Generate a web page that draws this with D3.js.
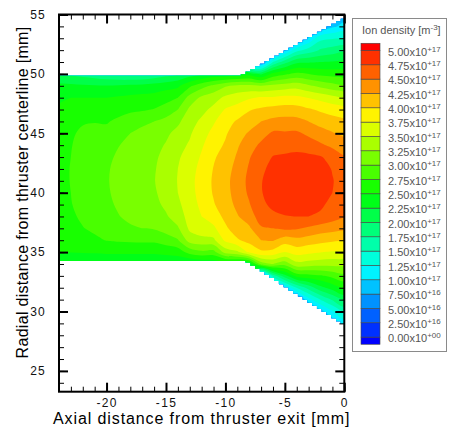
<!DOCTYPE html>
<html>
<head>
<meta charset="utf-8">
<script src="https://cdn.jsdelivr.net/npm/d3@7"></script>
<style>
  html, body { margin: 0; padding: 0; background: #fff; }
  svg { display: block; font-family: "Liberation Sans", Arial, Helvetica, sans-serif; }
</style>
</head>
<body>
<svg id="chart" width="450" height="429"></svg>
<script>
// Axial stations of the sampled columns [mm]
const axialMm = [-24, -23, -22, -21, -20, -19, -18, -17, -16, -15, -14, -13,
                 -12, -11, -10, -9, -8, -7, -6, -5, -4, -3, -2, -1, 0];
// Radial position [mm] of the first sample in each column; samples go down in 1 mm steps
const firstRadialMm = [50, 50, 50, 50, 50, 50, 50, 50, 50, 50, 50, 50,
                       50, 50, 50, 50, 51, 51, 52, 53, 53, 54, 54, 55, 55];
// Ion density per column, in units of 1e17 m^-3
const ionDensity = [
  [2.0, 2.3, 2.45, 2.55, 2.6, 2.63, 2.65, 2.66, 2.67, 2.67, 2.66, 2.65, 2.63, 2.6, 2.56, 2.5, 2.2],
  [1.95, 2.3, 2.5, 2.62, 2.68, 2.72, 2.74, 2.75, 2.76, 2.76, 2.75, 2.74, 2.71, 2.67, 2.61, 2.51, 2.22],
  [1.9, 2.28, 2.5, 2.65, 2.73, 2.79, 2.82, 2.84, 2.85, 2.85, 2.84, 2.82, 2.79, 2.74, 2.66, 2.52, 2.22],
  [1.85, 2.27, 2.5, 2.64, 2.74, 2.82, 2.87, 2.9, 2.92, 2.92, 2.91, 2.89, 2.86, 2.8, 2.7, 2.53, 2.22],
  [1.78, 2.26, 2.5, 2.63, 2.73, 2.82, 2.89, 2.94, 2.97, 2.98, 2.97, 2.95, 2.91, 2.85, 2.76, 2.55, 2.22],
  [1.72, 2.28, 2.53, 2.66, 2.8, 2.92, 2.99, 3.04, 3.07, 3.07, 3.06, 3.03, 2.99, 2.92, 2.78, 2.55, 2.22],
  [1.7, 2.3, 2.56, 2.7, 2.88, 3.0, 3.07, 3.12, 3.14, 3.14, 3.13, 3.1, 3.05, 2.97, 2.79, 2.55, 2.22],
  [1.72, 2.32, 2.58, 2.72, 2.95, 3.06, 3.13, 3.17, 3.19, 3.19, 3.18, 3.15, 3.09, 3.0, 2.8, 2.55, 2.23],
  [1.8, 2.35, 2.6, 2.76, 3.0, 3.1, 3.17, 3.21, 3.23, 3.24, 3.22, 3.18, 3.12, 3.02, 2.8, 2.55, 2.24],
  [1.9, 2.4, 2.66, 2.85, 3.08, 3.2, 3.27, 3.32, 3.35, 3.36, 3.34, 3.3, 3.22, 3.1, 2.88, 2.58, 2.25],
  [2.0, 2.45, 2.75, 3.0, 3.2, 3.33, 3.42, 3.47, 3.5, 3.51, 3.5, 3.45, 3.37, 3.22, 2.98, 2.62, 2.26],
  [2.1, 2.7, 3.1, 3.3, 3.4, 3.47, 3.53, 3.6, 3.65, 3.67, 3.66, 3.63, 3.6, 3.55, 3.36, 2.85, 2.2],
  [2.2, 2.9, 3.3, 3.42, 3.55, 3.65, 3.72, 3.78, 3.83, 3.86, 3.85, 3.81, 3.75, 3.65, 3.42, 2.95, 2.25],
  [2.3, 3.05, 3.4, 3.57, 3.72, 3.82, 3.9, 3.97, 4.01, 4.03, 4.02, 3.98, 3.88, 3.7, 3.45, 2.92, 2.28],
  [2.3, 3.22, 3.55, 3.77, 3.9, 3.97, 4.03, 4.1, 4.15, 4.18, 4.17, 4.13, 4.06, 3.96, 3.8, 3.35, 2.3],
  [2.35, 3.3, 3.64, 3.85, 4.03, 4.14, 4.22, 4.28, 4.33, 4.36, 4.35, 4.31, 4.23, 4.13, 3.97, 3.45, 2.3],
  [0.8, 2.4, 3.3, 3.72, 3.98, 4.13, 4.28, 4.39, 4.48, 4.53, 4.56, 4.54, 4.48, 4.37, 4.21, 4.08, 3.8, 2.3],
  [0.6, 2.2, 3.25, 3.78, 4.04, 4.25, 4.4, 4.55, 4.65, 4.71, 4.74, 4.74, 4.71, 4.63, 4.47, 4.25, 3.95, 3.1, 0.5],
  [0.3, 1.5, 2.58, 3.31, 3.78, 4.08, 4.32, 4.54, 4.66, 4.76, 4.81, 4.83, 4.82, 4.79, 4.71, 4.5, 4.27, 3.92, 3.25, 1.6, 0.6],
  [0.3, 0.95, 1.9, 2.71, 3.36, 3.82, 4.11, 4.34, 4.53, 4.67, 4.78, 4.85, 4.88, 4.87, 4.83, 4.74, 4.55, 4.12, 3.75, 3.1, 2.17, 1.0],
  [0.6, 1.42, 2.19, 2.81, 3.4, 3.81, 4.1, 4.33, 4.54, 4.68, 4.8, 4.87, 4.9, 4.88, 4.83, 4.75, 4.53, 4.18, 3.86, 3.42, 2.6, 1.5, 0.65],
  [0.4, 1.02, 1.6, 2.22, 2.75, 3.29, 3.74, 4.03, 4.25, 4.45, 4.62, 4.8, 4.86, 4.88, 4.86, 4.81, 4.75, 4.46, 4.13, 3.81, 3.38, 2.66, 1.85, 1.15, 0.5],
  [0.7, 1.43, 1.78, 2.25, 2.68, 3.18, 3.67, 3.96, 4.16, 4.35, 4.54, 4.77, 4.82, 4.83, 4.82, 4.78, 4.72, 4.38, 4.08, 3.76, 3.35, 2.72, 2.17, 1.5, 0.9],
  [0.5, 0.95, 1.48, 1.86, 2.27, 2.65, 3.09, 3.58, 3.9, 4.1, 4.27, 4.45, 4.65, 4.74, 4.76, 4.75, 4.7, 4.62, 4.34, 4.04, 3.73, 3.34, 2.82, 2.36, 1.78, 1.22, 0.8],
  [0.85, 1.08, 1.5, 1.93, 2.29, 2.61, 3.0, 3.5, 3.84, 4.05, 4.19, 4.36, 4.52, 4.62, 4.67, 4.66, 4.6, 4.52, 4.3, 4.0, 3.7, 3.32, 2.92, 2.55, 2.05, 1.55, 1.1]
];

// Outline of the computational domain [axial mm, radial mm]
const wallTop = [[-24, 49.85], [-8.7, 49.85], [0, 54.72]];
const wallBottom = [[-24, 34.25], [-8.3, 34.25], [0, 28.85]];
const meshCellMm = 0.4;

// Contour levels (1e17 m^-3) and band colours from below the lowest level to above the highest
const contourLevels = [0, 0.25, 0.5, 0.75, 1, 1.25, 1.5, 1.75, 2, 2.25, 2.5,
                       2.75, 3, 3.25, 3.5, 3.75, 4, 4.25, 4.5, 4.75, 5];
const bandColors = ["#0000FF", "#0031FF", "#0061FF", "#0092FF", "#00C2FF", "#00F3FF",
                    "#00FFDB", "#00FFAA", "#00FF79", "#00FF49", "#00FF18", "#18FF00",
                    "#49FF00", "#79FF00", "#AAFF00", "#DBFF00", "#FFF300", "#FFC200",
                    "#FF9200", "#FF6100", "#FF3100", "#FF0000"];

const xTicks = [-20, -15, -10, -5, 0];
const yTicks = [25, 30, 35, 40, 45, 50, 55];
const xTitle = "Axial distance from thruster exit [mm]";
const yTitle = "Radial distance from thruster centerline [mm]";

// ---------------------------------------------------------------------------
const svg = d3.select("#chart");
svg.append("rect").attr("width", 450).attr("height", 429).attr("fill", "#fff");

const x = d3.scaleLinear().domain([-24, 0]).range([59, 344.3]);
const y = d3.scaleLinear().domain([23.25, 55]).range([391.7, 14.5]);

// Regular grid for the contour generator (columns padded with their end samples)
const nx = axialMm.length;
const yTopGrid = d3.max(firstRadialMm);
const yBottomGrid = d3.min(firstRadialMm.map((t, i) => t - ionDensity[i].length + 1));
const ny = yTopGrid - yBottomGrid + 1;
const grid = new Float64Array(nx * ny);
for (let j = 0; j < ny; j++) {
  const r = yTopGrid - j;
  for (let i = 0; i < nx; i++) {
    const col = ionDensity[i];
    const k = Math.max(0, Math.min(col.length - 1, firstRadialMm[i] - r));
    grid[j * nx + i] = col[k];
  }
}
const bands = d3.contours().size([nx, ny]).smooth(true).thresholds(contourLevels)(grid);

// Grid coordinates (sample at cell centre) -> screen, rings drawn as smooth closed curves
const gx = cx => x(axialMm[0] + (cx - 0.5));
const gy = cy => y(yTopGrid - (cy - 0.5));
const ringLine = d3.line().curve(d3.curveCatmullRomClosed.alpha(0.5));
function bandPath(mp) {
  let d = "";
  for (const polygon of mp.coordinates) {
    for (const ring of polygon) {
      const pts = ring.slice(0, -1).map(p => [gx(p[0]), gy(p[1])]);
      if (pts.length > 2) d += ringLine(pts);
    }
  }
  return d;
}

// Stepped wall following the mesh cells
function stairs(p0, p1, step) {
  const pts = [];
  const n = Math.ceil((p1[0] - p0[0]) / step - 1e-9);
  for (let k = 0; k < n; k++) {
    const xa = p0[0] + k * step;
    const xb = Math.min(p0[0] + (k + 1) * step, p1[0]);
    const t = ((xa + xb) / 2 - p0[0]) / (p1[0] - p0[0]);
    const yy = p0[1] + t * (p1[1] - p0[1]);
    pts.push([xa, yy], [xb, yy]);
  }
  return pts;
}
const outline = [wallTop[0], wallTop[1]]
  .concat(stairs(wallTop[1], wallTop[2], meshCellMm))
  .concat(stairs(wallBottom[1], wallBottom[2], meshCellMm).reverse())
  .concat([wallBottom[1], wallBottom[0]]);

svg.append("clipPath").attr("id", "flow-domain")
  .append("path")
  .attr("d", d3.line().x(d => x(d[0])).y(d => y(d[1]))(outline) + "Z");

svg.append("g").attr("clip-path", "url(#flow-domain)")
  .selectAll("path").data(bands).join("path")
  .attr("d", bandPath)
  .attr("fill-rule", "evenodd")
  .attr("fill", (d, i) => bandColors[i + 1]);

// ---------------------------------------------------------------------------
// Axes: inward ticks on all four sides
const [xLeft, xRight] = x.range();
const [yBottom, yTop] = y.range();
const xMinor = x.ticks(24);
const yMinor = y.ticks(32);
const plainInt = d => String(d);

function styleAxis(g, width) {
  g.select(".domain").remove();
  g.attr("font-family", null).attr("font-size", null);
  g.selectAll(".tick line").attr("stroke", "#000").attr("stroke-width", width);
}

const axes = svg.append("g");
axes.append("g").attr("transform", `translate(0,${yBottom})`)
  .call(d3.axisBottom(x).tickValues(xMinor).tickSize(-5).tickFormat(""))
  .call(g => styleAxis(g, 1));
axes.append("g").attr("transform", `translate(0,${yTop})`)
  .call(d3.axisTop(x).tickValues(xMinor).tickSize(-5).tickFormat(""))
  .call(g => styleAxis(g, 1));
axes.append("g").attr("transform", `translate(${xLeft},0)`)
  .call(d3.axisLeft(y).tickValues(yMinor).tickSize(-5).tickFormat(""))
  .call(g => styleAxis(g, 1));
axes.append("g").attr("transform", `translate(${xRight},0)`)
  .call(d3.axisRight(y).tickValues(yMinor).tickSize(-5).tickFormat(""))
  .call(g => styleAxis(g, 1));

axes.append("g").attr("transform", `translate(0,${yBottom})`)
  .call(d3.axisBottom(x).tickValues(xTicks).tickSize(-9).tickPadding(7).tickFormat(plainInt))
  .call(g => styleAxis(g, 2))
  .call(g => g.selectAll("text").attr("fill", "#111").style("font-size", "12px").style("letter-spacing", "1.3px"));
axes.append("g").attr("transform", `translate(0,${yTop})`)
  .call(d3.axisTop(x).tickValues(xTicks).tickSize(-9).tickFormat(""))
  .call(g => styleAxis(g, 2));
axes.append("g").attr("transform", `translate(${xLeft},0)`)
  .call(d3.axisLeft(y).tickValues(yTicks).tickSize(-9).tickPadding(13).tickFormat(plainInt))
  .call(g => styleAxis(g, 2))
  .call(g => g.selectAll("text").attr("fill", "#111").style("font-size", "12px").style("letter-spacing", "1.2px"));
axes.append("g").attr("transform", `translate(${xRight},0)`)
  .call(d3.axisRight(y).tickValues(yTicks).tickSize(-9).tickFormat(""))
  .call(g => styleAxis(g, 2));

svg.append("rect")
  .attr("x", xLeft).attr("y", yTop)
  .attr("width", xRight - xLeft).attr("height", yBottom - yTop)
  .attr("fill", "none").attr("stroke", "#000").attr("stroke-width", 2);

svg.append("text")
  .attr("x", (xLeft + xRight) / 2).attr("y", 423.5)
  .attr("text-anchor", "middle")
  .style("font-size", "16px").style("letter-spacing", "0.9px")
  .attr("fill", "#000")
  .text(xTitle);

svg.append("text")
  .attr("transform", `translate(27.5,192.5) rotate(-90)`)
  .attr("text-anchor", "middle")
  .style("font-size", "16px").style("letter-spacing", "0.3px")
  .attr("fill", "#000")
  .text(yTitle);

// ---------------------------------------------------------------------------
// Legend
const legend = svg.append("g");
legend.append("rect")
  .attr("x", 352.5).attr("y", 18.5).attr("width", 94).attr("height", 333)
  .attr("fill", "#fff").attr("stroke", "#8a8a8a").attr("stroke-width", 1);

const legendTitle = legend.append("text")
  .attr("x", 362).attr("y", 34)
  .attr("fill", "#555").style("font-size", "11px");
legendTitle.append("tspan").text("Ion density [m");
legendTitle.append("tspan").attr("dy", -4).style("font-size", "8px").text("-3");
legendTitle.append("tspan").attr("dy", 4).text("]");

const step = contourLevels[1] - contourLevels[0];
const legendY = d3.scaleLinear()
  .domain([contourLevels[contourLevels.length - 1], contourLevels[0]])
  .range([50.45, 337.1]);

const legendBands = bandColors.map((c, b) => ({
  color: c,
  lo: b === 0 ? contourLevels[0] - step / 2 : contourLevels[b - 1],
  hi: b === bandColors.length - 1 ? contourLevels[contourLevels.length - 1] + step / 2 : contourLevels[b]
}));

legend.selectAll("rect.band").data(legendBands).join("rect")
  .attr("class", "band")
  .attr("x", 361).attr("width", 19)
  .attr("y", d => legendY(d.hi))
  .attr("height", d => legendY(d.lo) - legendY(d.hi))
  .attr("fill", d => d.color)
  .attr("stroke", "#444").attr("stroke-width", 0.6);

function sciParts(v) {
  const val = v * 1e17;
  if (val === 0) return ["0.00", "+00"];
  const e = Math.floor(Math.log10(val) + 1e-9);
  const m = val / Math.pow(10, e);
  return [m.toFixed(2), (e >= 0 ? "+" : "-") + String(Math.abs(e)).padStart(2, "0")];
}

const labels = legend.selectAll("text.level").data(contourLevels).join("text")
  .attr("class", "level")
  .attr("x", 388).attr("y", d => legendY(d) + 5.2)
  .attr("fill", "#555").style("font-size", "11px");
labels.append("tspan").text(d => sciParts(d)[0] + "x10");
labels.append("tspan").attr("dy", -4).style("font-size", "8px").text(d => sciParts(d)[1]);
</script>
</body>
</html>
